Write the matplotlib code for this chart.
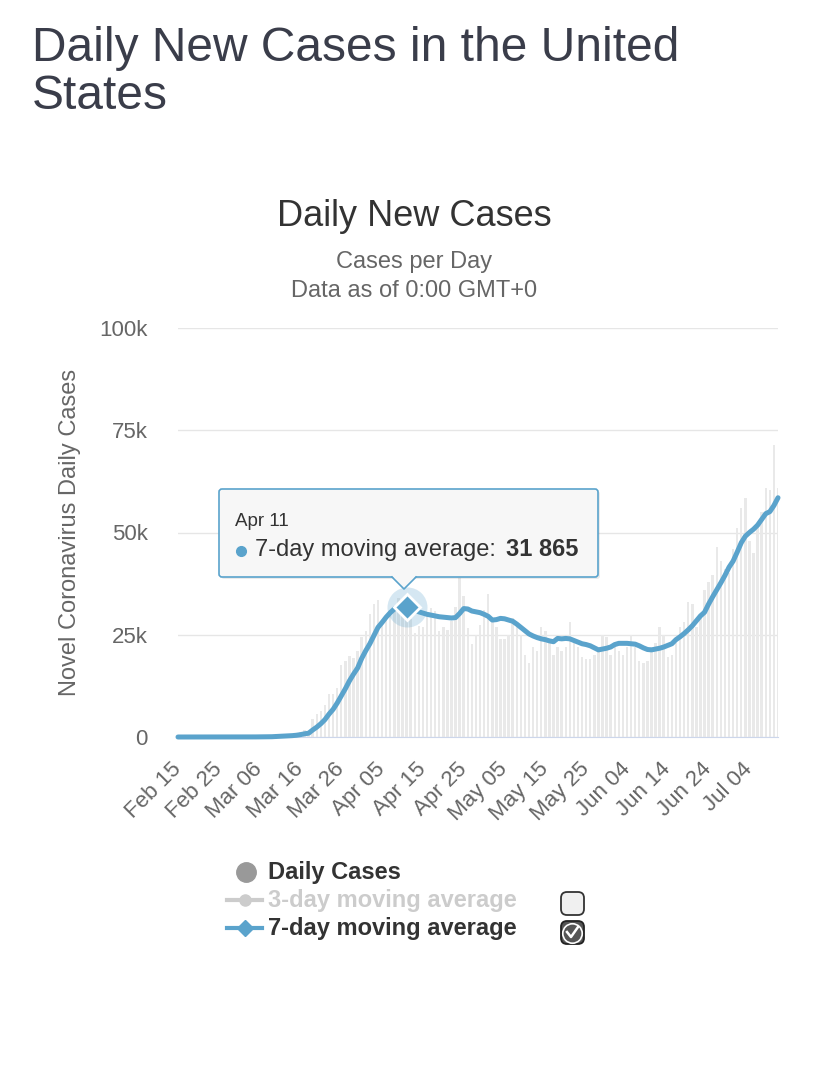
import numpy as np
import pandas as pd
import matplotlib
matplotlib.use('Agg')
import matplotlib.pyplot as plt
from matplotlib.patches import FancyBboxPatch, Polygon

plt.rcParams['font.family'] = ['Liberation Sans', 'DejaVu Sans']

# daily new cases, Feb 15 .. Jul 11
daily_cases = [
    0, 0, 0, 0, 0, 0, 2, 0, 0, 18, 0, 6, 1, 3, 6,
    8, 23, 20, 31, 68, 45, 140, 116, 65, 376, 322, 382, 516, 548, 772, 1133,
    1789, 1362, 4500, 5600, 6389, 7787, 10571, 10500, 12038, 17500, 18500,
    19821, 19408, 20922, 24500,
    26000, 30081, 32600, 33600, 28200, 29595, 31000, 31587, 33913, 33753,
    29861, 28917, 25306, 27051, 27000, 30500, 31500, 30833, 25844, 27000,
    26220, 28400, 31900, 38958, 34500, 26543, 22700, 25000, 27500, 31000,
    35000, 28000, 27000, 24000, 24000, 25000, 29000, 27000, 25000, 20000,
    18000, 22000, 21000, 27000, 26000, 23000, 20000, 22000, 21000, 22000,
    28000, 24000, 22000, 19500, 19000, 19000, 20000, 22000, 25000, 24500, 20000,
    22000, 21000, 20000, 22000, 25000, 22000, 18500, 18000, 18500, 22000,
    23000, 27000, 25000, 19500, 20000, 23000, 27000, 28000, 33000, 32500,
    27000, 30000, 36000, 38000, 39500, 46500, 43000, 41000, 40000, 46000,
    51000, 56000, 58500, 48000, 45000, 52000, 55000, 61000, 60500, 71500, 61000,
]

# 7-day moving average
avg_7day = [
    0, 0, 0, 0, 0, 0, 0, 0, 0, 3, 3, 3, 3, 4, 4,
    5, 8, 10, 14, 22, 28, 48, 63, 69, 120, 162, 207, 274, 332, 426,
    578, 780, 929, 1716, 2417, 3252, 4254, 5602, 6760, 8300, 10030, 11800,
    13720, 15370, 16860, 19200,
    21100, 22800, 24800, 26800, 28000, 29300, 30400, 31300, 31800, 32100, 31865,
    31500, 31000, 30600, 30300, 30000, 29800, 29600, 29400, 29300, 29200, 29100, 29200,
    30200, 31400, 31300, 30800, 30600, 30400, 30000, 29500, 28600, 28700, 29000, 28900,
    28600, 28300, 27600, 26800, 26000, 25200, 24700, 24300, 24000, 23800, 23500, 23300,
    24100, 24000, 24100, 24000, 23600, 23200, 22800, 22600, 22300, 21800, 21300, 21500,
    21700, 22000, 22600, 22900, 22900, 22900, 22800, 22700, 22300, 21800, 21400, 21300,
    21500, 21700, 22000, 22400, 22800, 23800, 24500, 25300, 26200, 27200, 28400, 29600,
    30500, 32500, 34300, 36000, 37700, 39500,
    41500, 43000, 45200, 47500, 49100, 50000, 50800, 51800, 53200, 54600, 55100,
    56600, 58500,
]

dates = pd.date_range('2020-02-15', periods=len(daily_cases), freq='D')

x_tick_labels = ['Feb 15', 'Feb 25', 'Mar 06', 'Mar 16', 'Mar 26', 'Apr 05',
                 'Apr 15', 'Apr 25', 'May 05', 'May 15', 'May 25', 'Jun 04',
                 'Jun 14', 'Jun 24', 'Jul 04']
y_ticks = [0, 25000, 50000, 75000, 100000]
y_tick_labels = ['0', '25k', '50k', '75k', '100k']

hover_date = '2020-04-11'

W, H = 828, 1068
blue = '#5aa3cc'
grey_text = '#666666'
dark_text = '#333333'

fig = plt.figure(figsize=(W / 100, H / 100), dpi=100)
ax = fig.add_axes([178 / W, 1 - 737 / H, 600 / W, 409 / H])

ax.bar(dates, daily_cases, width=0.6, color='#e9e9e9', zorder=1)
ax.plot(dates, avg_7day, color=blue, lw=3.6, solid_joinstyle='round',
        solid_capstyle='round', zorder=3, clip_on=False)

# hovered point
i = list(dates).index(pd.Timestamp(hover_date))
ax.scatter([dates[i]], [avg_7day[i]], s=830, color=blue, alpha=0.25, lw=0, zorder=4)
ax.plot([dates[i]], [avg_7day[i]], marker='D', ms=13, mfc=blue, mec='white',
        mew=2, zorder=5)

ax.set_xlim(dates[0], dates[-1])
ax.set_ylim(0, 100000)
ax.set_yticks(y_ticks)
ax.set_yticklabels(y_tick_labels)
ax.set_xticks(dates[::10])
ax.set_xticklabels(x_tick_labels)
ax.tick_params(axis='both', length=0, colors=grey_text, labelsize=16)
ax.tick_params(axis='y', pad=22)
ax.tick_params(axis='x', pad=21)
for lab in ax.get_xticklabels():
    lab.set_rotation(45)
    lab.set_ha('right')
    lab.set_va('center')
    lab.set_rotation_mode('anchor')

ax.yaxis.grid(True, color='#e6e6e6', lw=1)
ax.set_axisbelow(True)
for s in ['left', 'right', 'top']:
    ax.spines[s].set_visible(False)
ax.spines['bottom'].set_color('#ccd6eb')
ax.spines['bottom'].set_zorder(2)

# overlay in pixel coordinates for titles, tooltip and legend
ov = fig.add_axes([0, 0, 1, 1], zorder=10)
ov.set_xlim(0, W)
ov.set_ylim(H, 0)
ov.axis('off')

ov.text(32, 61, 'Daily New Cases in the United', fontsize=34.5, color='#3a3d4a', va='baseline')
ov.text(32, 109, 'States', fontsize=34.5, color='#3a3d4a', va='baseline')

ov.text(414, 217, 'Daily New Cases', fontsize=26, color=dark_text, ha='center', va='center')
ov.text(414, 262, 'Cases per Day', fontsize=17, color=grey_text, ha='center', va='center')
ov.text(414, 291, 'Data as of 0:00 GMT+0', fontsize=17, color=grey_text, ha='center', va='center')
ov.text(70, 532, 'Novel Coronavirus Daily Cases', fontsize=17, color=grey_text,
        rotation=90, ha='center', va='center')

# tooltip
shadow = FancyBboxPatch((221, 491), 379, 88, boxstyle='round,pad=0,rounding_size=3',
                        fc='black', ec='none', alpha=0.08)
ov.add_patch(shadow)
box = FancyBboxPatch((219, 489), 379, 88, boxstyle='round,pad=0,rounding_size=3',
                     fc='#f7f7f7', ec=blue, lw=1.2)
ov.add_patch(box)
ov.add_patch(Polygon([[392, 576], [416, 576], [404, 589]], closed=True, fc='#f7f7f7', ec='none'))
ov.plot([392, 404, 416], [577, 589, 577], color=blue, lw=1.2)
ov.text(235, 522, 'Apr 11', fontsize=13.5, color=dark_text, va='center')
ov.plot([241], [551], 'o', ms=7, color=blue)
ov.text(255, 550, '7-day moving average: ', fontsize=17, color=dark_text, va='center')
ov.text(578, 550, '31 865', fontsize=17, color=dark_text, va='center', ha='right',
        fontweight='bold')

# legend
ov.plot([246], [872], 'o', ms=14, color='#999999')
ov.text(268, 872, 'Daily Cases', fontsize=17, fontweight='bold', color=dark_text, va='center')
ov.plot([227, 262], [900, 900], color='#cccccc', lw=3)
ov.plot([245], [900], 'o', ms=8, color='#cccccc')
ov.text(268, 900, '3-day moving average', fontsize=17, fontweight='bold', color='#cccccc', va='center')
ov.plot([227, 262], [928, 928], color=blue, lw=3)
ov.plot([245], [928], 'D', ms=8, color=blue)
ov.text(268, 928, '7-day moving average', fontsize=17, fontweight='bold', color=dark_text, va='center')

# checkboxes
ov.add_patch(FancyBboxPatch((561, 892), 23, 23, boxstyle='round,pad=0,rounding_size=6',
                            fc='#f0f0f0', ec='#333333', lw=1.3))
ov.add_patch(FancyBboxPatch((561, 921), 23, 23, boxstyle='round,pad=0,rounding_size=6',
                            fc='#555555', ec='#222222', lw=1.3))
ov.plot([572.5], [932.5], 'o', ms=14, mfc='none', mec='white', mew=1.2)
ov.plot([567, 571, 578], [932, 937, 927], color='white', lw=1.8)

fig.savefig('out.png', dpi=100)
